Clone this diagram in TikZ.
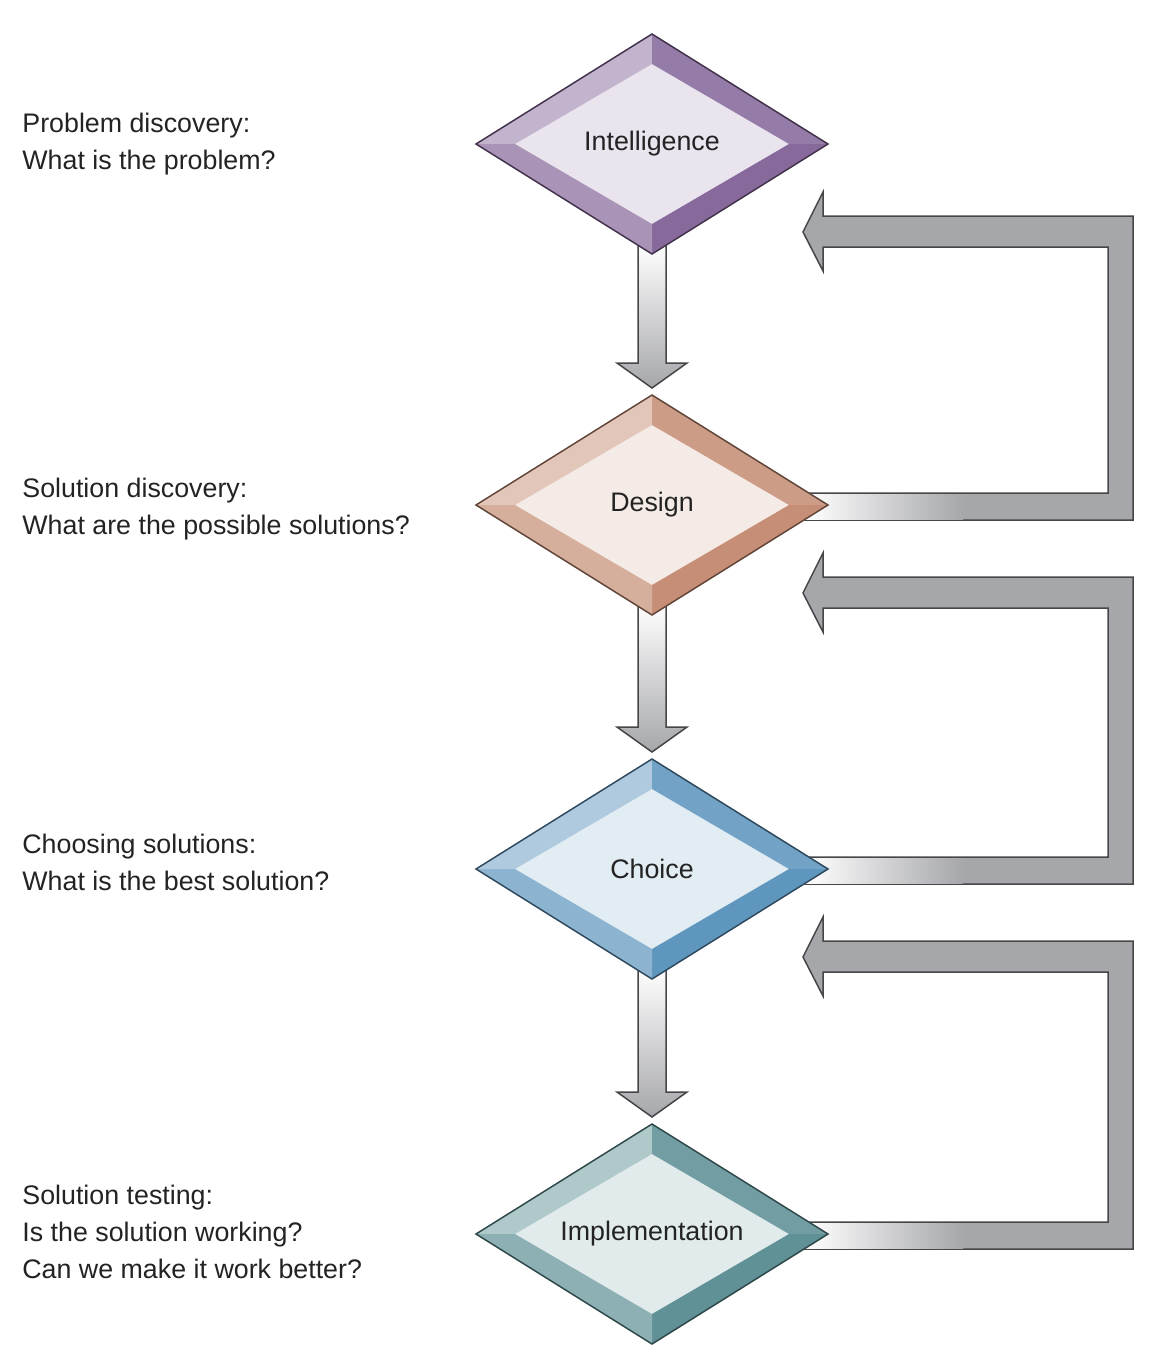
\documentclass[tikz,border=0pt]{standalone}
\usepackage{fontspec}
\setsansfont{Liberation Sans}
\usetikzlibrary{shapes.geometric, calc}
\definecolor{intelbase}{RGB}{135,105,155}
\definecolor{designbase}{RGB}{198,142,118}
\definecolor{choicebase}{RGB}{95,150,190}
\definecolor{implbase}{RGB}{95,145,150}
\definecolor{loopgray}{RGB}{166,167,171}
\definecolor{edgegray}{RGB}{70,70,72}
\definecolor{labeltext}{RGB}{35,35,35}
\pgfdeclarelayer{arrows}
\pgfdeclarelayer{bevel}
\pgfsetlayers{arrows,bevel,main}

\begin{document}
\begin{tikzpicture}[
    x=0.5pt, y=0.5pt,
    %% ── node styles ──────────────────────────────────────────────────────────
    stage/.style={
        diamond, aspect=1.6, draw=#1!50!black, line width=0.75pt,
        minimum width=176pt, minimum height=110pt,
        inner sep=2pt, outer sep=0pt,
        font=\sffamily\fontsize{13.4}{16}\selectfont, text=labeltext
    },
    stagein/.style={
        diamond, aspect=1.6, fill=#1!18!white, draw=none,
        minimum width=137pt, minimum height=80pt,
        inner sep=0pt, outer sep=0pt
    },
    question/.style={
        anchor=west, align=left, inner sep=0pt,
        font=\sffamily\fontsize{13.4}{18.5}\selectfont, text=labeltext
    },
    %% ── edge styles ──────────────────────────────────────────────────────────
    flowarrow/.style={
        draw=edgegray, line width=0.75pt,
        top color=white, bottom color=loopgray
    },
    feedback/.style={
        draw=edgegray, line width=0.75pt, fill=loopgray
    },
]
\useasboundingbox (0,0) rectangle (1156,-1366);

%% ── Stages (one column, top to bottom) ──────────────────────────────────────
\node[stage=intelbase]  (intel)  at (652,-144)  {Intelligence};
\node[stage=designbase] (design) at (652,-505)  {Design};
\node[stage=choicebase] (choice) at (652,-869)  {Choice};
\node[stage=implbase]   (impl)   at (652,-1234) {Implementation};

%% ── Questions on the left ───────────────────────────────────────────────────
\node[question] (q-intel)  at (22,-144)  {Problem discovery:\\What is the problem?};
\node[question] (q-design) at (22,-509)  {Solution discovery:\\What are the possible solutions?};
\node[question] (q-choice) at (22,-862)  {Choosing solutions:\\What is the best solution?};
\node[question] (q-impl)   at (22,-1232) {Solution testing:\\Is the solution working?\\Can we make it work better?};

%% ─────────────────────────────────────────────────────────────────────────────
%% Bevelled faces of the diamonds
%% ─────────────────────────────────────────────────────────────────────────────
\begin{pgfonlayer}{bevel}
\foreach \n/\c in {intel/intelbase, design/designbase, choice/choicebase, impl/implbase} {
  \node[stagein=\c] (\n-in) at (\n.center) {};
  \fill[\c!50!white] (\n.west) -- (\n.north) -- (\n-in.north) -- (\n-in.west) -- cycle;
  \fill[\c!88!white] (\n.north) -- (\n.east) -- (\n-in.east) -- (\n-in.north) -- cycle;
  \fill[\c]          (\n.east) -- (\n.south) -- (\n-in.south) -- (\n-in.east) -- cycle;
  \fill[\c!72!white] (\n.south) -- (\n.west) -- (\n-in.west) -- (\n-in.south) -- cycle;
}
\end{pgfonlayer}

%% ─────────────────────────────────────────────────────────────────────────────
%% Forward arrows (behind the diamonds)
%% ─────────────────────────────────────────────────────────────────────────────
\begin{pgfonlayer}{arrows}

%% intel → design
\draw[flowarrow] ($(intel.south)+(-14,11)$) -- ($(design.north)+(-14,32)$)
  -- ($(design.north)+(-35,32)$) -- ($(design.north)+(0,7)$)
  -- ($(design.north)+(35,32)$) -- ($(design.north)+(14,32)$)
  -- ($(intel.south)+(14,11)$) -- cycle;

%% design → choice
\draw[flowarrow] ($(design.south)+(-14,11)$) -- ($(choice.north)+(-14,32)$)
  -- ($(choice.north)+(-35,32)$) -- ($(choice.north)+(0,7)$)
  -- ($(choice.north)+(35,32)$) -- ($(choice.north)+(14,32)$)
  -- ($(design.south)+(14,11)$) -- cycle;

%% choice → impl
\draw[flowarrow] ($(choice.south)+(-14,11)$) -- ($(impl.north)+(-14,32)$)
  -- ($(impl.north)+(-35,32)$) -- ($(impl.north)+(0,7)$)
  -- ($(impl.north)+(35,32)$) -- ($(impl.north)+(14,32)$)
  -- ($(choice.south)+(14,11)$) -- cycle;

%% ── Feedback arrows on the right ────────────────────────────────────────────
\foreach \src/\dst in {design/intel, choice/design, impl/choice} {
  \draw[feedback] ($(\src.east)+(-23,12)$) -- ($(\src.east)+(280,12)$)
    -- ($(\dst.east)+(280,-103)$) -- ($(\dst.east)+(-5,-103)$)
    -- ($(\dst.east)+(-5,-127)$) -- ($(\dst.east)+(-25,-88)$)
    -- ($(\dst.east)+(-5,-48)$) -- ($(\dst.east)+(-5,-72)$)
    -- ($(\dst.east)+(305,-72)$) -- ($(\src.east)+(305,-15)$)
    -- ($(\src.east)+(-23,-15)$) -- cycle;
  \shade[left color=white, right color=loopgray]
    ($(\src.east)+(-23,11)$) rectangle ($(\src.east)+(135,-14)$);
}
\end{pgfonlayer}

\end{tikzpicture}
\end{document}
